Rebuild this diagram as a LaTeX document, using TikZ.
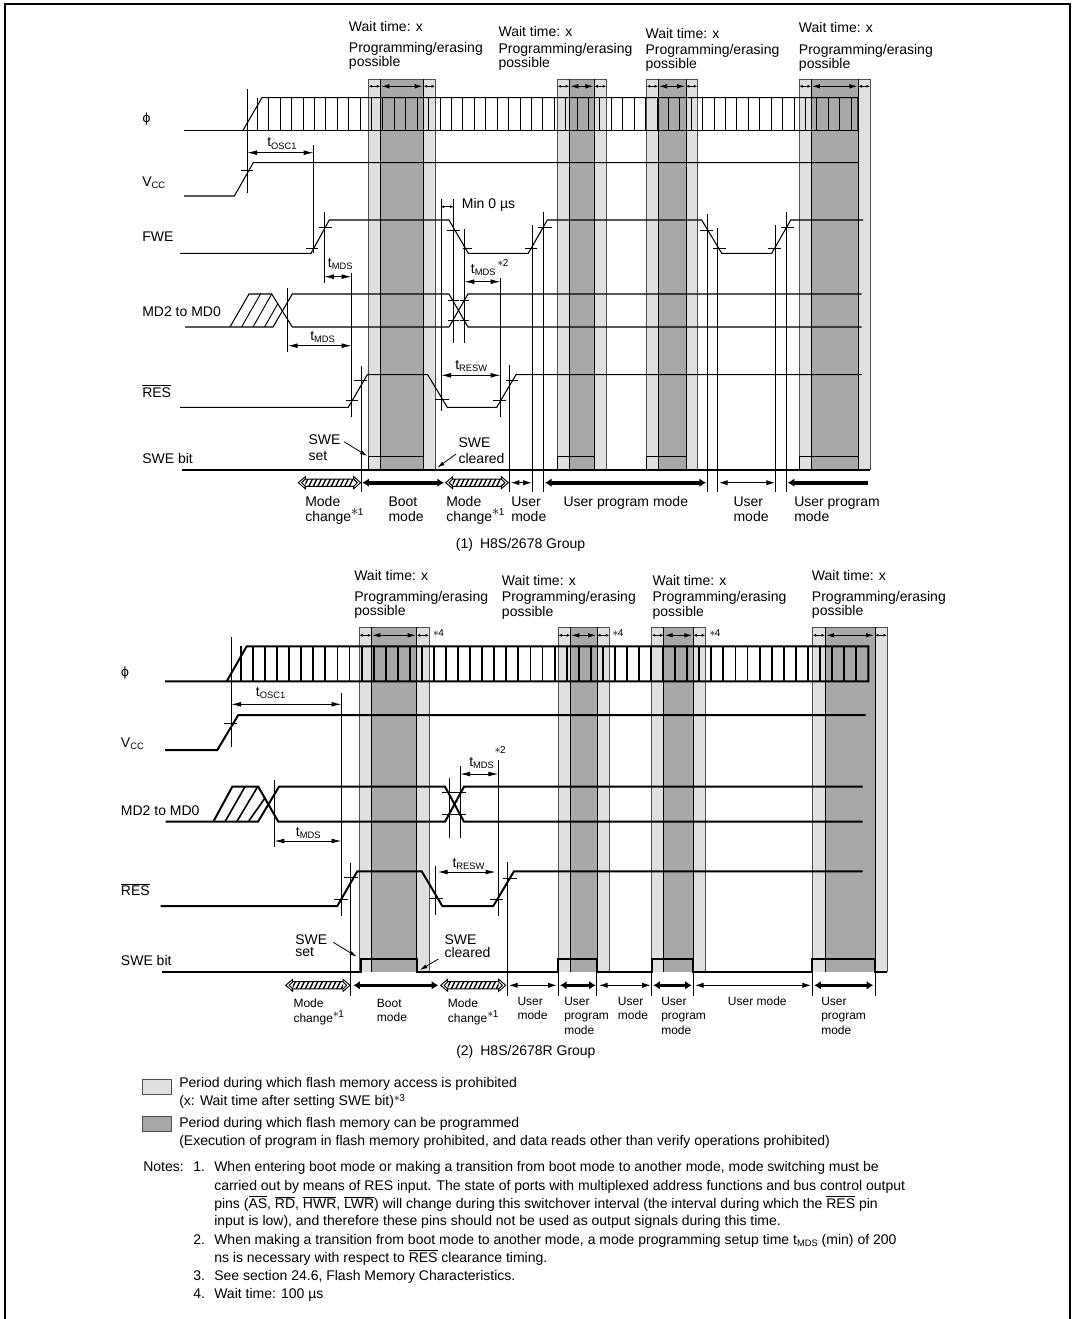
\documentclass[tikz,border=0pt]{standalone}
\usepackage{fontspec}
\setmainfont{Liberation Sans}
\newfontfamily\symfont{DejaVu Sans}
\usetikzlibrary{arrows.meta}
\definecolor{bandLight}{HTML}{E0E0E0}
\definecolor{bandDark}{HTML}{A8A8A8}
\definecolor{bandEdge}{HTML}{505050}
\newcommand{\subtxt}[1]{\raisebox{-0.3ex}{\fontsize{7}{8}\selectfont #1}}
\newcommand{\suptxt}[1]{\raisebox{0.85ex}{$\ast$\kern-0.5pt\fontsize{7.5}{8}\selectfont #1}}
\newcommand{\ovl}[1]{$\overline{\mbox{#1}}$}
\newcommand{\hatcharrow}[3]{%
  \draw[guide, fill=white] (#1,#3) -- ({#1+7},{#3-6}) -- ({#1+7},{#3-3.6}) -- ({#2-7},{#3-3.6}) -- ({#2-7},{#3-6})
    -- (#2,#3) -- ({#2-7},{#3+6}) -- ({#2-7},{#3+3.6}) -- ({#1+7},{#3+3.6}) -- ({#1+7},{#3+6}) -- cycle;
  \draw[guide] ({#1+7},{#3-3.6}) -- ({#1+3.4},#3) -- ({#1+7},{#3+3.6});
  \draw[guide] ({#2-7},{#3-3.6}) -- ({#2-3.4},#3) -- ({#2-7},{#3+3.6});
  \begin{scope}
    \clip ({#1+7},{#3-3.6}) rectangle ({#2-7},{#3+3.6});
    \foreach \h in {6,10.5,...,70}
      \draw[line width=1pt] ({#1+\h},{#3+3.6}) -- ({#1+\h+3.6},{#3-3.6});
  \end{scope}
}
\begin{document}
\begin{tikzpicture}[
  x=0.75pt, y=-0.75pt,
  lbl/.style={anchor=base west, inner sep=0pt, font=\fontsize{10.5}{12}\selectfont},
  small/.style={anchor=base west, inner sep=0pt, font=\fontsize{9}{11}\selectfont},
  guide/.style={line width=0.7pt},
  wave/.style={line width=0.8pt},
  bold/.style={line width=1.5pt},
  dim/.style={line width=0.7pt, {Latex[length=7.5pt,width=3.6pt]}-{Latex[length=7.5pt,width=3.6pt]}},
  tiny/.style={line width=0.6pt, {Latex[length=2.6pt,width=2.2pt]}-{Latex[length=2.6pt,width=2.2pt]}},
  inband/.style={line width=0.7pt, {Latex[length=6pt,width=3.4pt]}-{Latex[length=6pt,width=3.4pt]}},
  slim/.style={line width=0.7pt, {Latex[length=6.5pt,width=4pt]}-{Latex[length=6.5pt,width=4pt]}},
  fat/.style={line width=2.7pt, {Latex[length=5pt,width=6.5pt]}-{Latex[length=5pt,width=6.5pt]}},
  point/.style={line width=0.6pt, -{Latex[length=5.5pt,width=3pt]}}
]
  \useasboundingbox (0,0) rectangle (1073,1319);
  \draw[line width=1.5pt] (4.5,1319) -- (4.5,4.2) -- (1070,4.2) -- (1070,1319);

  % (1) bands
  \foreach \a/\b/\c/\d in {368.7/380.3/423.7/435, 557.7/569.3/594.3/606.3, 646.7/658/686/697.3, 799.3/811/858.3/870}{
    \fill[bandLight] (\a,79) rectangle (\d,470);
    \fill[bandDark] (\b,79) rectangle (\c,470);
    \draw[guide, bandEdge] (\a,470) -- (\a,79) -- (\d,79) -- (\d,470);
    \draw[guide] (\b,79) -- (\b,470) (\c,79) -- (\c,470);
    \draw[guide] (\a,470) -- (\a,456.7) -- (\c,456.7);
    \draw[tiny] (\a,86.3) -- (\b,86.3);
    \draw[inband] ({\b+1},86.3) -- ({\c-1},86.3);
    \draw[tiny] (\c,86.3) -- (\d,86.3);
  }

  % (1) clock
  \draw[wave] (184,130.3) -- (858,130.3);
  \draw[wave] (243,130.3) -- (262,97.7) -- (858,97.7) -- (858,130.3);
  \foreach \k in {0,...,52}
    \draw[guide] ({257.3+11.42*\k},97.7) -- ({257.3+11.42*\k},130.3);

  % (1) signals
  \draw[wave] (184,196) -- (234.3,196) -- (253.3,162.7) -- (858,162.7);
  \draw[wave] (180,253.3) -- (311,253.3) -- (329.3,220) -- (449,220) -- (468.3,253.3) -- (528.3,253.3) -- (547.3,220)
    -- (701.7,220) -- (721.7,253.3) -- (771.7,253.3) -- (790.7,220) -- (863,220);
  \draw[wave] (185,327) -- (273,327) -- (292.3,294) -- (449,294) -- (468,327) -- (861.7,327);
  \draw[wave] (230,327) -- (249,294) -- (271.7,294) -- (292.3,327) -- (449,327) -- (468,294) -- (861.7,294);
  \foreach \xa/\xb/\ya/\yb in {241.5/260.5/327/294, 253/271.7/327/294, 264.5/277.8/327/303.8}
    \draw[guide] (\xa,\ya) -- (\xb,\yb);
  \draw[wave] (180,407.3) -- (348.3,407.3) -- (367.3,374.7) -- (427.7,374.7) -- (447.3,407.3) -- (496.7,407.3) -- (516,374.7) -- (861.7,374.7);
  \draw[wave] (181.7,470) -- (870,470);
  \draw[line width=1.4pt] (423.7,470) -- (435,470) (594.3,470) -- (606.3,470) (686,470) -- (697.3,470);

  % (1) guides and ticks
  \foreach \xx/\ya/\yb in {247/89/193, 313.7/145/253, 324/211.7/282.7, 287.7/288/351.7, 351.7/273/417, 361/366/491.7,
      441/199/411, 453.7/199/343, 464.3/229/343, 500.7/278/417, 509.7/365/491.7, 532.7/225/491.7, 543/211.7/491.7,
      707.3/214/491.7, 717.7/228/491.7, 775.3/225/491.7, 786/211.7/491.7}
    \draw[guide] (\xx,\ya) -- (\xx,\yb);
  \foreach \xa/\xb/\yy in {240.7/253/170.3, 305.7/318/248.7, 319/331.7/227.3, 446.7/460/230, 463/472/248.7,
      525/537.3/248.7, 538.3/551.7/227.3, 700/713.3/230, 713.3/725.7/248.7, 767.7/780.7/248.7, 781/794/227.3,
      448.3/459/300, 460/469.3/300, 448.3/459/320, 460/469.3/320, 345.7/358.3/400.3, 354/367.3/380.7, 435/449/399.7,
      493.3/505.7/400.3, 506/518.3/380.7}
    \draw[guide] (\xa,\yy) -- (\xb,\yy);

  % (1) timing arrows
  \draw[dim] (247,152.7) -- (313.7,152.7);
  \draw[dim] (324,276.7) -- (351.7,276.7);
  \draw[dim] (287.7,345.7) -- (351.7,345.7);
  \draw[dim] (464.3,281.7) -- (500.7,281.7);
  \draw[dim] (441,375.3) -- (500.7,375.3);
  \draw[tiny] (440.7,206.7) -- (453.7,206.7);
  \draw[point] (344,441.7) -- (367.3,456);
  \draw[point] (456,454) -- (437.3,467.7);

  % (1) mode arrows
  \hatcharrow{298.3}{360.7}{482.7}
  \hatcharrow{445.7}{508.3}{482.7}
  \foreach \xa/\xb in {362.3/444, 545/706}
    \draw[fat] (\xa,482.7) -- (\xb,482.7);
  \foreach \xa/\xb in {510.7/531.7, 719/775}
    \draw[slim] (\xa,482.7) -- (\xb,482.7);
  \draw[line width=2.7pt, {Latex[length=5pt,width=6.5pt]}-] (787.7,482.7) -- (868.3,482.7);

  % (1) labels
  \foreach \i/\px/\wy/\py/\qy in {1/348.7/31.7/52.7/66.7, 2/498.3/36.7/53.3/67.3, 3/645.3/38.3/54.3/68.3, 4/798.7/32.7/54.3/68.3}{
    \node[lbl] (waitA\i) at (\px,\wy) {Wait time: x};
    \node[lbl] (progA\i) at (\px,\py) {Programming/erasing};
    \node[lbl] (possA\i) at (\px,\qy) {possible};
  }
  \node[lbl, font=\fontsize{9.5}{11}\selectfont] (phiA) at (142,123) {\symfont ϕ};
  \node[lbl] (vccA) at (142,186.7) {V\subtxt{CC}};
  \node[lbl] (fwe) at (142,241.7) {FWE};
  \node[lbl] (mdA) at (142,316.7) {MD2 to MD0};
  \node[lbl] (resA) at (142,397.3) {\ovl{RES}};
  \node[lbl] (sweA) at (142,463.3) {SWE bit};
  \node[lbl] (oscA) at (267,147) {t\subtxt{OSC1}};
  \node[lbl] (mdsA) at (327.7,267.7) {t\subtxt{MDS}};
  \node[lbl] (mdsB) at (310,340.7) {t\subtxt{MDS}};
  \node[lbl] (mdsC) at (470.7,273.3) {t\subtxt{MDS}};
  \node[small] (mdsCnote) at (497,272) {\suptxt{2}};
  \node[lbl] (reswA) at (455,369.3) {t\subtxt{RESW}};
  \node[lbl] (minzero) at (461.7,209) {Min 0 µs};
  \node[lbl] (setA) at (308.3,444) {SWE};
  \node[lbl] (setB) at (308.3,460) {set};
  \node[lbl] (clrA) at (458.3,447.3) {SWE};
  \node[lbl] (clrB) at (458.3,463.3) {cleared};
  \foreach \i/\px in {1/305, 2/446}{
    \node[lbl] (chgA\i) at (\px,506) {Mode};
    \node[lbl] (chgB\i) at (\px,521.7) {change\suptxt{1}};
  }
  \foreach \i/\px/\ta/\tb in {1/388.3/Boot/mode, 2/511/User/mode, 3/733.3/User/mode, 4/794/User program/mode}{
    \node[lbl] (modeA\i) at (\px,506) {\ta};
    \node[lbl] (modeB\i) at (\px,521.7) {\tb};
  }
  \node[lbl] (upm) at (563.3,506) {User program mode};
  \node[lbl] (capA) at (455.7,548) {(1)\enspace H8S/2678 Group};

  % (2) bands
  \foreach \a/\b/\c/\d in {359.3/371.3/416.7/429, 558.3/570.3/597/609.3, 651.7/663.7/693.3/705.3, 812.7/825/875/887}{
    \fill[bandLight] (\a,627.3) rectangle (\d,971.7);
    \fill[bandDark] (\b,627.3) rectangle (\c,971.7);
    \draw[guide, bandEdge] (\a,971.7) -- (\a,627.3) -- (\d,627.3) -- (\d,971.7) -- (\c,971.7);
    \draw[guide] (\b,627.3) -- (\b,971.7) (\c,627.3) -- (\c,971.7);
    \draw[tiny] (\a,635.3) -- (\b,635.3);
    \draw[inband] ({\b+1},635.3) -- ({\c-1},635.3);
    \draw[tiny] (\c,635.3) -- (\d,635.3);
  }

  % (2) clock
  \draw[bold] (165,681.3) -- (868.3,681.3) -- (868.3,646.3) -- (246.7,646.3) -- (226.7,681.3);
  \foreach \k in {0,...,51}
    \draw[line width=1.4pt] ({241+12.06*\k},646.3) -- ({241+12.06*\k},681.3);

  % (2) signals
  \draw[bold] (165,750) -- (217.3,750) -- (238.3,715) -- (865.7,715);
  \draw[bold] (165.7,821.7) -- (258,821.7) -- (279,786.7) -- (445,786.7) -- (464,821.7) -- (862.7,821.7);
  \draw[bold] (213.3,821.7) -- (232.3,786.7) -- (258.3,786.7) -- (278.3,821.7) -- (445,821.7) -- (464,786.7) -- (862.7,786.7);
  \foreach \xa/\xb/\ya/\yb in {225/245/821.7/786.7, 236.7/257.7/821.7/786.7, 248.3/265/821.7/798}
    \draw[line width=1.2pt] (\xa,\ya) -- (\xb,\yb);
  \draw[bold] (160.7,906) -- (337.3,906) -- (357.3,871.3) -- (421.7,871.3) -- (442.3,906) -- (493.3,906) -- (514,871.3) -- (862.7,871.3);
  \draw[bold] (162.3,971.7) -- (360.7,971.7) -- (360.7,958.7) -- (416.7,958.7) -- (416.7,971.7) -- (558.3,971.7) -- (558.3,958.7) -- (596.7,958.7)
    -- (596.7,971.7) -- (651.7,971.7) -- (651.7,958.7) -- (693.3,958.7) -- (693.3,971.7) -- (812.3,971.7) -- (812.3,958.7) -- (875,958.7) -- (875,971.7) -- (887,971.7);

  % (2) guides and ticks
  \foreach \xx/\ya/\yb in {231/637.3/747.3, 341.5/693.3/916, 274.3/780/847.3, 449/778.3/838.3, 460/766/838.3, 498.3/760/916,
      350.7/862.7/995.7, 435/865.7/915, 507.7/862.3/995.7, 558.3/971/995.7, 596.7/971/995.7, 651.7/971/995.7, 693.3/971/995.7,
      812.3/971/995.7, 875/971/995.7}
    \draw[guide] (\xx,\ya) -- (\xx,\yb);
  \foreach \xa/\xb/\yy in {224/237.3/723.3, 442.3/455/792.7, 455/466/792.7, 442.3/455/814, 455/466/814, 334/347.7/899,
      344/358.3/877.7, 430/443.3/898, 490/503.3/899, 503.3/517.3/878.3}
    \draw[guide] (\xa,\yy) -- (\xb,\yy);

  % (2) timing arrows
  \draw[dim] (231,704.3) -- (341.5,704.3);
  \draw[dim] (460,774) -- (498.3,774);
  \draw[dim] (274.3,841) -- (341.5,841);
  \draw[dim] (437.7,872) -- (495.7,872);
  \draw[point] (333.3,942.3) -- (356.7,956.7);
  \draw[point] (438.3,959) -- (420,970);

  % (2) mode arrows
  \hatcharrow{285.7}{350}{985.3}
  \hatcharrow{440.7}{505.7}{985.3}
  \foreach \xa/\xb in {353.3/438.3, 560/595.7, 653.3/691.7, 814.3/873.3}
    \draw[fat] (\xa,985.3) -- (\xb,985.3);
  \foreach \xa/\xb in {509/556.7, 599/650.7, 695/811}
    \draw[slim] (\xa,985.3) -- (\xb,985.3);

  % (2) labels
  \foreach \i/\px/\wy/\py/\qy in {1/354/580/601.7/615.7, 2/501.7/585.7/601.7/616.7, 3/652.3/585.7/601.7/616.7, 4/811.7/580/601.7/615.7}{
    \node[lbl] (waitB\i) at (\px,\wy) {Wait time: x};
    \node[lbl] (progB\i) at (\px,\py) {Programming/erasing};
    \node[lbl] (possB\i) at (\px,\qy) {possible};
  }
  \foreach \i/\px in {1/432.7, 2/612, 3/709}
    \node[small] (waitnote\i) at (\px,642) {\suptxt{4}};
  \node[lbl, font=\fontsize{9.5}{11}\selectfont] (phiB) at (120.7,676.7) {\symfont ϕ};
  \node[lbl] (vccB) at (120.7,747.3) {V\subtxt{CC}};
  \node[lbl] (mdB) at (120.7,815.7) {MD2 to MD0};
  \node[lbl] (resB) at (120.7,895.7) {\ovl{RES}};
  \node[lbl] (sweB) at (120.7,965) {SWE bit};
  \node[lbl] (oscB) at (255.7,696) {t\subtxt{OSC1}};
  \node[lbl] (mdsD) at (295.7,836) {t\subtxt{MDS}};
  \node[lbl] (mdsE) at (469,766) {t\subtxt{MDS}};
  \node[small] (mdsnote) at (494.3,759) {\suptxt{2}};
  \node[lbl] (reswB) at (452.3,867.7) {t\subtxt{RESW}};
  \node[lbl] (setC) at (295,944.3) {SWE};
  \node[lbl] (setD) at (295,956.7) {set};
  \node[lbl] (clrC) at (444.3,944) {SWE};
  \node[lbl] (clrD) at (444.3,957.3) {cleared};
  \foreach \i/\px in {1/293.3, 2/447.7}{
    \node[small] (chgC\i) at (\px,1007.3) {Mode};
    \node[small] (chgD\i) at (\px,1022.7) {change\suptxt{1}};
  }
  \node[small] (bootA) at (376.7,1007.3) {Boot};
  \node[small] (bootB) at (376.7,1021.7) {mode};
  \foreach \i/\px in {1/517.3, 2/617.7}{
    \node[small] (userA\i) at (\px,1005) {User};
    \node[small] (userB\i) at (\px,1019) {mode};
  }
  \foreach \i/\px in {1/564, 2/661, 3/821}{
    \node[small] (uprA\i) at (\px,1005) {User};
    \node[small] (uprB\i) at (\px,1019) {program};
    \node[small] (uprC\i) at (\px,1034) {mode};
  }
  \node[small] (umode) at (727.7,1005) {User mode};
  \node[lbl] (capB) at (456,1055) {(2)\enspace H8S/2678R Group};

  % legend
  \draw[guide, bandEdge, fill=bandLight] (142,1079) rectangle (171,1094);
  \draw[guide, bandEdge, fill=bandDark] (142,1116.7) rectangle (171,1131);
  \node[lbl] (legA) at (179,1087.3) {Period during which flash memory access is prohibited};
  \node[lbl] (legB) at (179,1105.7) {(x: Wait time after setting SWE bit)\raisebox{-0.1ex}{\fontsize{9}{9}\selectfont\suptxt{3}}};
  \node[lbl] (legC) at (179,1127.3) {Period during which flash memory can be programmed};
  \node[lbl] (legD) at (179,1145.3) {(Execution of program in flash memory prohibited, and data reads other than verify operations prohibited)};

  % notes
  \node[lbl] (notes) at (143,1171.7) {Notes:};
  \foreach \i/\yy in {1/1171.7, 2/1244.3, 3/1280.7, 4/1298.3}
    \node[lbl] (num\i) at (193,\yy) {\i.};
  \node[lbl] (noteA) at (214,1171.7) {When entering boot mode or making a transition from boot mode to another mode, mode switching must be};
  \node[lbl] (noteB) at (214,1190) {carried out by means of RES input. The state of ports with multiplexed address functions and bus control output};
  \node[lbl] (noteC) at (214,1208.3) {pins (\ovl{AS}, \ovl{RD}, \ovl{HWR}, \ovl{LWR}) will change during this switchover interval (the interval during which the \ovl{RES} pin};
  \node[lbl] (noteD) at (214,1225.7) {input is low), and therefore these pins should not be used as output signals during this time.};
  \node[lbl] (noteE) at (214,1244.3) {When making a transition from boot mode to another mode, a mode programming setup time t\subtxt{MDS} (min) of 200};
  \node[lbl] (noteF) at (214,1262.3) {ns is necessary with respect to \ovl{RES} clearance timing.};
  \node[lbl] (noteG) at (214,1280.7) {See section 24.6, Flash Memory Characteristics.};
  \node[lbl] (noteH) at (214,1298.3) {Wait time: 100 µs};
\end{tikzpicture}
\end{document}
